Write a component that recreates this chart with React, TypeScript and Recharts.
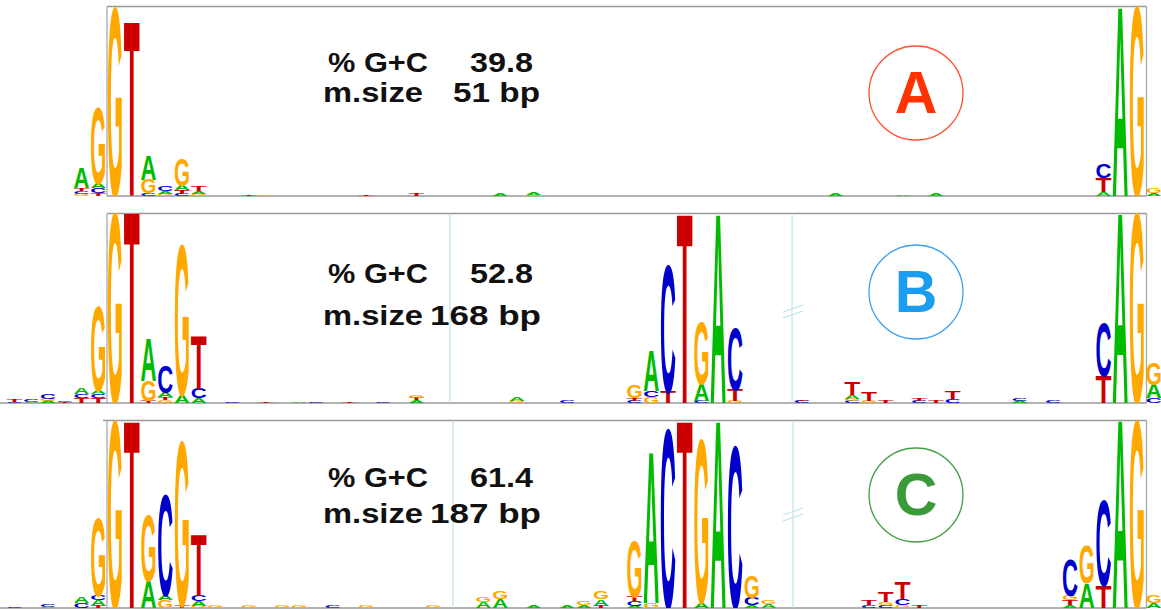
import React from 'react';
import { BarChart, Bar, XAxis, YAxis } from 'recharts';

// Sequence logos for three splice-site groups (A, B, C).
// Each column is a stack of letters, bottom to top, heights in bits.

type Stack = [string, number][];
interface Column {
  pos: number;
  stack: Stack;
}

const positions = Array.from({ length: 69 }, (_, i) => i);

const logoA: Column[] = [
  { pos: 4, stack: [['G', 0.02], ['C', 0.03], ['T', 0.03], ['A', 0.21]] },
  { pos: 5, stack: [['T', 0.03], ['C', 0.05], ['A', 0.05], ['G', 0.79]] },
  { pos: 6, stack: [['G', 1.96]] },
  { pos: 7, stack: [['T', 1.81]] },
  { pos: 8, stack: [['C', 0.03], ['G', 0.14], ['A', 0.26]] },
  { pos: 9, stack: [['G', 0.02], ['A', 0.03], ['C', 0.05]] },
  { pos: 10, stack: [['C', 0.02], ['T', 0.04], ['A', 0.05], ['G', 0.28]] },
  { pos: 11, stack: [['G', 0.02], ['A', 0.03], ['T', 0.05]] },
  { pos: 14, stack: [['T', 0.01]] },
  { pos: 15, stack: [['G', 0.01]] },
  { pos: 21, stack: [['T', 0.01]] },
  { pos: 24, stack: [['T', 0.03]] },
  { pos: 29, stack: [['A', 0.02]] },
  { pos: 31, stack: [['G', 0.01], ['A', 0.02]] },
  { pos: 49, stack: [['A', 0.02]] },
  { pos: 53, stack: [['A', 0.01]] },
  { pos: 55, stack: [['A', 0.02]] },
  { pos: 65, stack: [['A', 0.04], ['T', 0.15], ['C', 0.14]] },
  { pos: 66, stack: [['A', 1.97]] },
  { pos: 67, stack: [['G', 1.97]] },
  { pos: 68, stack: [['A', 0.03], ['G', 0.05]] },
];

const logoB: Column[] = [
  { pos: 0, stack: [['C', 0.01], ['T', 0.02]] },
  { pos: 1, stack: [['A', 0.01], ['C', 0.02]] },
  { pos: 2, stack: [['A', 0.02], ['G', 0.02], ['C', 0.05]] },
  { pos: 3, stack: [['T', 0.01], ['C', 0.01]] },
  { pos: 4, stack: [['T', 0.05], ['C', 0.04], ['A', 0.06]] },
  { pos: 5, stack: [['T', 0.05], ['C', 0.04], ['A', 0.04], ['G', 0.87]] },
  { pos: 6, stack: [['G', 1.98]] },
  { pos: 7, stack: [['T', 1.99]] },
  { pos: 8, stack: [['T', 0.02], ['G', 0.21], ['A', 0.44]] },
  { pos: 9, stack: [['G', 0.03], ['T', 0.03], ['A', 0.05], ['C', 0.28]] },
  { pos: 10, stack: [['A', 0.08], ['G', 1.56]] },
  { pos: 11, stack: [['A', 0.05], ['C', 0.1], ['T', 0.55]] },
  { pos: 13, stack: [['C', 0.01]] },
  { pos: 15, stack: [['T', 0.01]] },
  { pos: 17, stack: [['A', 0.01]] },
  { pos: 18, stack: [['C', 0.01]] },
  { pos: 20, stack: [['T', 0.01]] },
  { pos: 22, stack: [['C', 0.01]] },
  { pos: 24, stack: [['A', 0.03], ['T', 0.02], ['G', 0.03]] },
  { pos: 30, stack: [['G', 0.02], ['A', 0.04]] },
  { pos: 33, stack: [['C', 0.03]] },
  { pos: 37, stack: [['C', 0.02], ['T', 0.03], ['G', 0.13]] },
  { pos: 38, stack: [['G', 0.06], ['C', 0.07], ['A', 0.42]] },
  { pos: 39, stack: [['T', 0.12], ['C', 1.32]] },
  { pos: 40, stack: [['T', 1.97]] },
  { pos: 41, stack: [['C', 0.02], ['A', 0.18], ['G', 0.65]] },
  { pos: 42, stack: [['A', 1.97]] },
  { pos: 43, stack: [['G', 0.02], ['T', 0.12], ['C', 0.65]] },
  { pos: 47, stack: [['C', 0.02], ['T', 0.01]] },
  { pos: 50, stack: [['C', 0.02], ['G', 0.02], ['A', 0.04], ['T', 0.13]] },
  { pos: 51, stack: [['G', 0.02], ['T', 0.09]] },
  { pos: 52, stack: [['T', 0.02]] },
  { pos: 54, stack: [['C', 0.02], ['T', 0.03]] },
  { pos: 55, stack: [['T', 0.03]] },
  { pos: 56, stack: [['C', 0.04], ['T', 0.08]] },
  { pos: 60, stack: [['A', 0.02], ['C', 0.03]] },
  { pos: 62, stack: [['C', 0.02]] },
  { pos: 65, stack: [['T', 0.28], ['C', 0.55]] },
  { pos: 66, stack: [['A', 1.98]] },
  { pos: 67, stack: [['G', 1.98]] },
  { pos: 68, stack: [['C', 0.05], ['A', 0.14], ['G', 0.23]] },
];

const logoC: Column[] = [
  { pos: 0, stack: [['C', 0.01]] },
  { pos: 2, stack: [['A', 0.01], ['C', 0.02]] },
  { pos: 4, stack: [['C', 0.05], ['A', 0.06]] },
  { pos: 5, stack: [['T', 0.02], ['A', 0.06], ['C', 0.05], ['G', 0.81]] },
  { pos: 6, stack: [['G', 1.95]] },
  { pos: 7, stack: [['T', 1.95]] },
  { pos: 8, stack: [['A', 0.28], ['G', 0.68]] },
  { pos: 9, stack: [['G', 0.08], ['A', 0.05], ['C', 1.05]] },
  { pos: 10, stack: [['T', 0.02], ['G', 1.71]] },
  { pos: 11, stack: [['G', 0.02], ['A', 0.05], ['C', 0.07], ['T', 0.63]] },
  { pos: 12, stack: [['G', 0.02]] },
  { pos: 14, stack: [['G', 0.02]] },
  { pos: 16, stack: [['G', 0.02]] },
  { pos: 17, stack: [['G', 0.02]] },
  { pos: 19, stack: [['C', 0.03]] },
  { pos: 21, stack: [['G', 0.02]] },
  { pos: 25, stack: [['G', 0.02]] },
  { pos: 28, stack: [['A', 0.06], ['G', 0.05]] },
  { pos: 29, stack: [['A', 0.09], ['G', 0.08]] },
  { pos: 31, stack: [['A', 0.02]] },
  { pos: 33, stack: [['A', 0.02]] },
  { pos: 34, stack: [['A', 0.03], ['G', 0.04]] },
  { pos: 35, stack: [['T', 0.02], ['A', 0.07], ['G', 0.08]] },
  { pos: 37, stack: [['A', 0.02], ['C', 0.05], ['T', 0.05], ['G', 0.58]] },
  { pos: 38, stack: [['G', 0.05], ['A', 1.57]] },
  { pos: 39, stack: [['C', 1.86]] },
  { pos: 40, stack: [['T', 1.95]] },
  { pos: 41, stack: [['A', 0.05], ['G', 1.69]] },
  { pos: 42, stack: [['A', 1.95]] },
  { pos: 43, stack: [['C', 1.68]] },
  { pos: 44, stack: [['A', 0.03], ['C', 0.08], ['G', 0.23]] },
  { pos: 45, stack: [['A', 0.04], ['G', 0.04]] },
  { pos: 51, stack: [['C', 0.03], ['T', 0.05]] },
  { pos: 52, stack: [['C', 0.03], ['G', 0.03], ['T', 0.1]] },
  { pos: 53, stack: [['G', 0.03], ['C', 0.06], ['T', 0.17]] },
  { pos: 54, stack: [['T', 0.03]] },
  { pos: 63, stack: [['A', 0.03], ['T', 0.05], ['G', 0.05], ['C', 0.37]] },
  { pos: 64, stack: [['A', 0.26], ['G', 0.39]] },
  { pos: 65, stack: [['T', 0.23], ['C', 0.89]] },
  { pos: 66, stack: [['A', 1.96]] },
  { pos: 67, stack: [['G', 1.95]] },
  { pos: 68, stack: [['A', 0.05], ['G', 0.08]] },
];

const gcPercent = ['39.8', '52.8', '61.4'];
const meanSize = ['51 bp', '168 bp', '187 bp'];
const groupLabels = ['A', 'B', 'C'];

const LETTER_COLORS: Record<string, string> = {
  A: '#00bb00',
  C: '#0000cc',
  G: '#ffa800',
  T: '#cc0000',
};
const LABEL_COLORS = ['#ff3300', '#1a9cf0', '#3a9a3a'];
const RING_COLORS = ['#ff5030', '#3aa0f0', '#44a044'];

const SLOTS = [0, 1, 2, 3, 4];
const FONT = "'Liberation Sans', Arial, Helvetica, sans-serif";
// cap height of the bold face at font-size 100
const CAP = 68.8;

function buildRows(cols: Column[]) {
  return positions.map((p) => {
    const row: Record<string, number | string> = { pos: p };
    const col = cols.find((c) => c.pos === p);
    SLOTS.forEach((s) => {
      const entry = col?.stack[s];
      row[`l${s}`] = entry ? entry[0] : '';
      row[`s${s}`] = entry ? entry[1] : 0;
    });
    return row;
  });
}

// Draws one letter stretched to fill its bar rectangle
function Glyph(props: any) {
  const { x, y, width, height, payload, slot } = props;
  const letter = payload ? payload[`l${slot}`] : '';
  if (!letter || !height || height < 0.3) return null;
  const sy = height / CAP;
  return (
    <text
      x={0}
      y={0}
      fontFamily={FONT}
      fontWeight="bold"
      fontSize={100}
      textLength={width}
      lengthAdjust="spacingAndGlyphs"
      fill={LETTER_COLORS[letter]}
      transform={`translate(${x},${y + height}) scale(1,${sy})`}
    >
      {letter}
    </text>
  );
}

function Logo({ cols, top }: { cols: Column[]; top: number }) {
  const rows = buildRows(cols);
  return (
    <div style={{ position: 'absolute', left: 6, top }}>
      <BarChart
        width={1156}
        height={190}
        data={rows}
        margin={{ top: 0, right: 0, bottom: 0, left: 0 }}
        barCategoryGap={0.5}
        style={{ overflow: 'visible' }}
      >
        <XAxis dataKey="pos" hide />
        <YAxis hide domain={[0, 2]} allowDataOverflow />
        {SLOTS.map((s) => (
          <Bar
            key={s}
            dataKey={`s${s}`}
            stackId="logo"
            isAnimationActive={false}
            shape={(p: any) => <Glyph {...p} slot={s} />}
          />
        ))}
      </BarChart>
    </div>
  );
}

// Panel frames, region dividers, text and group badges
function Decorations() {
  const frames = [
    { top: 6.5, bottom: 196, left: 107 },
    { top: 213.5, bottom: 403, left: 107 },
    { top: 420.5, bottom: 608, left: 103 },
  ];
  const dividers = [
    [],
    [450, 792],
    [453, 793],
  ];
  const textY = [
    [72, 102],
    [283, 325],
    [487, 523],
  ];
  const ringY = [93, 292, 495];
  return (
    <svg width={1161} height={610} style={{ position: 'absolute', left: 0, top: 0 }}>
      {frames.map((f, i) => (
        <g key={i}>
          <line x1={f.left} x2={1146.5} y1={f.top} y2={f.top} stroke="#999" strokeWidth={1.3} />
          <line x1={107} x2={107} y1={f.top} y2={f.bottom} stroke="#aaa" strokeWidth={1.3} />
          <line x1={1146.5} x2={1146.5} y1={f.top} y2={f.bottom} stroke="#aaa" strokeWidth={1.3} />
          <line x1={i === 0 ? 107 : 0} x2={1146.5} y1={f.bottom} y2={f.bottom} stroke="#999" strokeWidth={1.3} />
          {dividers[i].map((dx) => (
            <line key={dx} x1={dx} x2={dx} y1={f.top} y2={f.bottom} stroke="#b8e0e6" strokeWidth={1} />
          ))}
          {i > 0 && (
            <g stroke="#b8e0e6" strokeWidth={1}>
              <line x1={783} y1={ringY[i] + 20} x2={803} y2={ringY[i] + 13} />
              <line x1={783} y1={ringY[i] + 26} x2={803} y2={ringY[i] + 19} />
            </g>
          )}
          <g fontFamily={FONT} fontWeight="bold" fontSize={28} fill="#111">
            <text x={328} y={textY[i][0]} textLength={100} lengthAdjust="spacingAndGlyphs">
              % G+C
            </text>
            <text x={470} y={textY[i][0]} textLength={63} lengthAdjust="spacingAndGlyphs">
              {gcPercent[i]}
            </text>
            <text x={323} y={textY[i][1]} textLength={100} lengthAdjust="spacingAndGlyphs">
              m.size
            </text>
            <text
              x={i === 0 ? 453 : 430}
              y={textY[i][1]}
              textLength={i === 0 ? 87 : 111}
              lengthAdjust="spacingAndGlyphs"
            >
              {meanSize[i]}
            </text>
          </g>
          <circle cx={916} cy={ringY[i]} r={47} fill="none" stroke={RING_COLORS[i]} strokeWidth={1.3} />
          <text
            x={916}
            y={ringY[i] + 20}
            textAnchor="middle"
            fontFamily={FONT}
            fontWeight="bold"
            fontSize={59}
            fill={LABEL_COLORS[i]}
          >
            {groupLabels[i]}
          </text>
        </g>
      ))}
    </svg>
  );
}

export default function App() {
  return (
    <div
      style={{
        position: 'absolute',
        left: 0,
        top: 0,
        width: 1161,
        height: 610,
        background: '#fff',
        overflow: 'hidden',
      }}
    >
      <Decorations />
      <Logo cols={logoA} top={6} />
      <Logo cols={logoB} top={213} />
      <Logo cols={logoC} top={418} />
    </div>
  );
}
